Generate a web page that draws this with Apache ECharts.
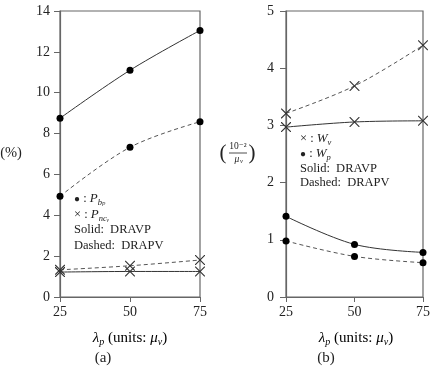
<!DOCTYPE html>
<html><head><meta charset="utf-8">
<script src="https://cdn.jsdelivr.net/npm/echarts@6/dist/echarts.min.js"></script>
<style>html,body{margin:0;padding:0;background:#fff}#c{width:433px;height:368px}</style>
</head><body><div id="c"></div>
<script>
var xVals = [25, 50, 75];
var xTicks = ['25', '50', '75'];
// panel (a) values, %
var aPbpSolid = [8.75, 11.1, 13.05];
var aPbpDashed = [4.93, 7.33, 8.58];
var aPncSolid = [1.22, 1.25, 1.25];
var aPncDashed = [1.33, 1.53, 1.81];
// panel (b) values, 10^-2 / mu_v
var bWvSolid = [2.97, 3.06, 3.08];
var bWvDashed = [3.21, 3.69, 4.40];
var bWpSolid = [1.41, 0.92, 0.78];
var bWpDashed = [0.98, 0.71, 0.60];

var FONT = '"Liberation Serif", "DejaVu Serif", serif';
var CROSS = 'path://M0,0 L0.8,0 L5,4.2 L9.2,0 L10,0 L10,0.8 L5.8,5 L10,9.2 L10,10 L9.2,10 L5,5.8 L0.8,10 L0,10 L0,9.2 L4.2,5 L0,0.8 Z';

function pairs(ys) { return xVals.map(function (x, i) { return [x, ys[i]]; }); }

function mkSeries(idx, ys, dashed, cross) {
  return {
    type: 'line', xAxisIndex: idx, yAxisIndex: idx, data: pairs(ys),
    smooth: 0.35,
    symbol: cross ? CROSS : 'circle',
    symbolSize: cross ? 10 : 7,
    itemStyle: { color: cross ? '#333' : '#000' },
    lineStyle: { color: dashed ? '#555' : '#333', width: 1, type: dashed ? [4, 3] : 'solid' },
    z: 3
  };
}

function xAxis(idx) {
  return {
    gridIndex: idx, type: 'value', min: 25, max: 75, interval: 25,
    axisLine: { lineStyle: { color: '#666', width: 1.2 } },
    axisTick: { show: true, length: 5, lineStyle: { color: '#666' } },
    axisLabel: { color: '#222', fontFamily: FONT, fontSize: 14, margin: 8,
      formatter: function (v) { var i = xVals.indexOf(v); return i >= 0 ? xTicks[i] : ''; } },
    splitLine: { show: false }
  };
}
function yAxis(idx, max, interval, margin) {
  return {
    gridIndex: idx, type: 'value', min: 0, max: max, interval: interval,
    axisLine: { show: true, lineStyle: { color: '#666', width: 1.2 } },
    axisTick: { show: true, length: 6, lineStyle: { color: '#666' } },
    axisLabel: { color: '#222', fontFamily: FONT, fontSize: 14, margin: margin },
    splitLine: { show: false }
  };
}

var rich = {
  t: { fontFamily: FONT, fontSize: 12.5, color: '#222' },
  d: { fontFamily: FONT, fontSize: 10, color: '#111' },
  i: { fontFamily: FONT, fontSize: 13, fontStyle: 'italic', color: '#222' },
  s: { fontFamily: FONT, fontSize: 8.5, fontStyle: 'italic', color: '#222', padding: [7, 0, 0, 0] }
};
var nameRich = {
  t: { fontFamily: FONT, fontSize: 15, color: '#222' },
  i: { fontFamily: FONT, fontSize: 15, fontStyle: 'italic', color: '#222' },
  s: { fontFamily: FONT, fontSize: 10, fontStyle: 'italic', color: '#222', padding: [8, 0, 0, 0] }
};

function legendLine(x, y, t) {
  return { type: 'text', x: x, y: y, style: { text: t, rich: rich, textVerticalAlign: 'middle', fill: '#222' } };
}

var option = {
  animation: false,
  backgroundColor: '#fff',
  grid: [
    { left: 60, right: 233, top: 11, bottom: 71, show: true, borderColor: '#666', borderWidth: 1.2 },
    { left: 286, right: 7, top: 11, bottom: 71, show: true, borderColor: '#666', borderWidth: 1.2 }
  ],
  xAxis: [xAxis(0), xAxis(1)],
  yAxis: [yAxis(0, 14, 2, 10), yAxis(1, 5, 1, 12)],
  series: [
    mkSeries(0, aPbpSolid, false, false),
    mkSeries(0, aPbpDashed, true, false),
    mkSeries(0, aPncSolid, false, true),
    mkSeries(0, aPncDashed, true, true),
    mkSeries(1, bWvSolid, false, true),
    mkSeries(1, bWvDashed, true, true),
    mkSeries(1, bWpSolid, false, false),
    mkSeries(1, bWpDashed, true, false)
  ],
  graphic: [
    // y-axis names
    { type: 'text', x: 11, y: 153, style: { text: '(%)', fontFamily: FONT, fontSize: 14.5, fill: '#222', textAlign: 'center', textVerticalAlign: 'middle' } },
    { type: 'text', x: 223, y: 153, style: { text: '(', fontFamily: FONT, fontSize: 21, fill: '#222', textAlign: 'center', textVerticalAlign: 'middle' } },
    { type: 'text', x: 238, y: 146, style: { text: '10⁻²', fontFamily: FONT, fontSize: 9.5, fill: '#222', textAlign: 'center', textVerticalAlign: 'middle' } },
    { type: 'line', shape: { x1: 229, y1: 153, x2: 247, y2: 153 }, style: { stroke: '#222', lineWidth: 0.8 } },
    { type: 'text', x: 237, y: 159, style: { text: 'μ', fontFamily: FONT, fontSize: 9.5, fontStyle: 'italic', fill: '#222', textAlign: 'center', textVerticalAlign: 'middle' } },
    { type: 'text', x: 241.5, y: 161, style: { text: 'v', fontFamily: FONT, fontSize: 6.5, fontStyle: 'italic', fill: '#222', textAlign: 'center', textVerticalAlign: 'middle' } },
    { type: 'text', x: 252, y: 153, style: { text: ')', fontFamily: FONT, fontSize: 21, fill: '#222', textAlign: 'center', textVerticalAlign: 'middle' } },
    // x-axis names
    { type: 'text', x: 130, y: 338, style: { text: '{i|λ}{s|p}{t| (units: }{i|μ}{s|v}{t|)}', rich: nameRich, textAlign: 'center', textVerticalAlign: 'middle' } },
    { type: 'text', x: 356, y: 338, style: { text: '{i|λ}{s|p}{t| (units: }{i|μ}{s|v}{t|)}', rich: nameRich, textAlign: 'center', textVerticalAlign: 'middle' } },
    // panel labels
    { type: 'text', x: 103, y: 358, style: { text: '(a)', fontFamily: FONT, fontSize: 15, fill: '#222', textAlign: 'center', textVerticalAlign: 'middle' } },
    { type: 'text', x: 326, y: 358, style: { text: '(b)', fontFamily: FONT, fontSize: 15, fill: '#222', textAlign: 'center', textVerticalAlign: 'middle' } },
    // legend (a)
    legendLine(74, 199, '{d|●}{t| : }{i|P}{s|bₚ}'),
    legendLine(74, 215, '{t|× : }{i|P}{s|ncᵥ}'),
    legendLine(74, 230, '{t|Solid:  DRAVP}'),
    legendLine(74, 246, '{t|Dashed:  DRAPV}'),
    // legend (b)
    legendLine(300, 139, '{t|× : }{i|W}{s|v}'),
    legendLine(300, 154, '{d|●}{t| : }{i|W}{s|p}'),
    legendLine(300, 169, '{t|Solid:  DRAVP}'),
    legendLine(300, 183, '{t|Dashed:  DRAPV}')
  ]
};
var chart = echarts.init(document.getElementById('c'), null, { renderer: 'canvas' });
chart.setOption(option);
</script></body></html>
